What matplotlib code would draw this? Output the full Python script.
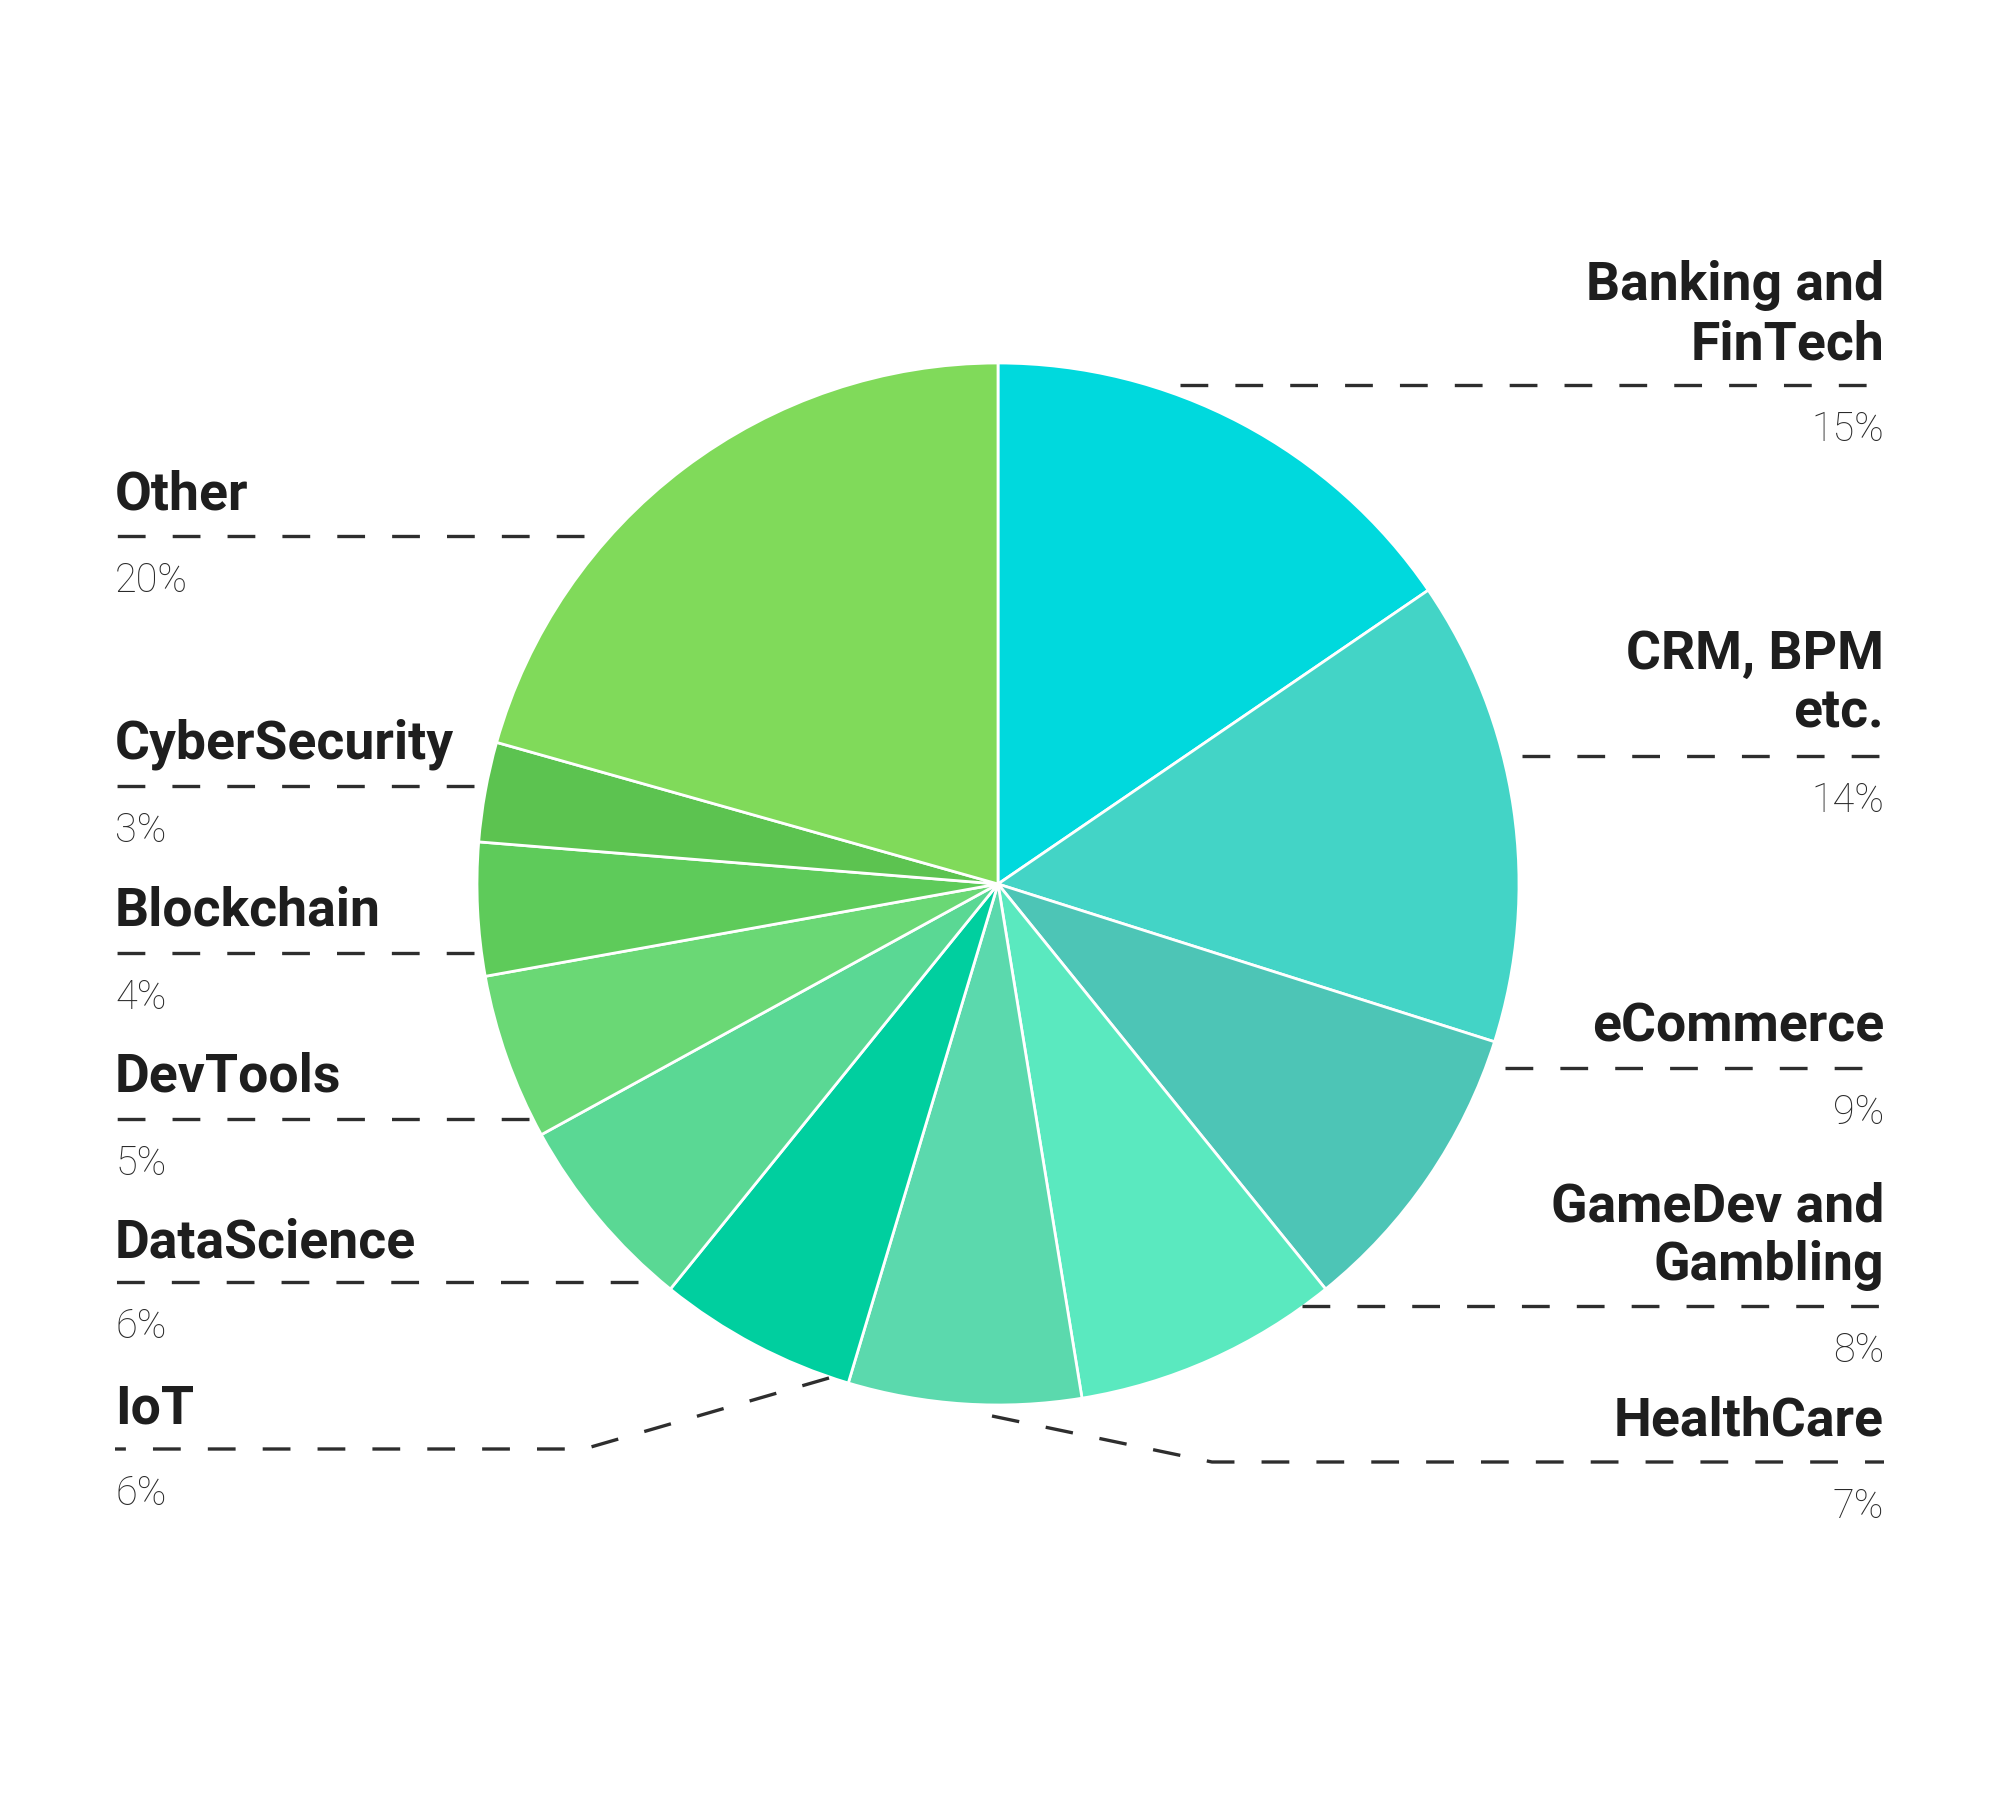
import matplotlib
matplotlib.use("Agg")
from matplotlib import pyplot as plt

plt.rcParams['font.family'] = ['Roboto', 'DejaVu Sans']
plt.rcParams['lines.scale_dashes'] = False

# clockwise from 12 o'clock
labels = ["Banking and\nFinTech", "CRM, BPM\netc.", "eCommerce", "GameDev and\nGambling",
          "HealthCare", "IoT", "DataScience", "DevTools", "Blockchain", "CyberSecurity", "Other"]
shares = [15, 14, 9, 8, 7, 6, 6, 5, 4, 3, 20]
colors = ["#00D9DD", "#43D4C6", "#4DC5B6", "#5AE9BF", "#5BD9AD", "#00CF9F",
          "#5AD894", "#6AD875", "#5ECB5A", "#5CC350", "#80DA5A"]

W, H = 2000, 1800
fig = plt.figure(figsize=(20, 18), dpi=100)
ax = fig.add_axes([0, 0, 1, 1])


def Y(y):
    # pixel row (from top) -> data y
    return H - y


cx, cy, r = 998, 884, 521
ax.pie(shares, colors=colors, startangle=90, counterclock=False,
       center=(cx, Y(cy)), radius=r, frame=True,
       wedgeprops=dict(edgecolor='white', linewidth=2))
ax.set_xlim(0, W)
ax.set_ylim(0, H)
ax.set_aspect('equal')
ax.axis('off')

# label layout: side, name baseline (last line), dash row, leader points
layout = {
    "Banking and\nFinTech": ('R', 359, 385, [(1180, 385)]),
    "CRM, BPM\netc.": ('R', 728, 756, [(1522, 756)]),
    "eCommerce": ('R', 1041, 1068, [(1505, 1068)]),
    "GameDev and\nGambling": ('R', 1280, 1306, [(1302, 1306)]),
    "HealthCare": ('R', 1435, 1462, [(992, 1416), (1212, 1462)]),
    "IoT": ('L', 1424, 1449, [(829, 1378), (584, 1449)]),
    "DataScience": ('L', 1257, 1282, [(638, 1282)]),
    "DevTools": ('L', 1092, 1119, [(529, 1119)]),
    "Blockchain": ('L', 926, 953, [(474, 953)]),
    "CyberSecurity": ('L', 759, 786, [(474, 786)]),
    "Other": ('L', 510, 536, [(584, 536)]),
}

xl, xr = 115, 1884
dash = (0, (20, 19.5))
for lab, val in zip(labels, shares):
    side, base, row, pts = layout[lab]
    x_edge = xl if side == 'L' else xr
    ha = 'left' if side == 'L' else 'right'
    lines = lab.split("\n")
    for i, line in enumerate(lines):
        yb = base - (len(lines) - 1 - i) * 59
        ax.text(x_edge, Y(yb), line, ha=ha, va='baseline', fontsize=38.5,
                fontweight='bold', color='#1E1E1E')
    ax.text(x_edge, Y(row + 56), f"{val}%", ha=ha, va='baseline', fontsize=28.5,
            fontweight='light', color='#2A2A2A')
    xs = [p[0] for p in pts] + [x_edge]
    ys = [Y(p[1]) for p in pts] + [Y(row)]
    ax.plot(xs, ys, color='#2E2E2E', linewidth=2.4, linestyle=dash,
            solid_capstyle='butt', dash_capstyle='butt')

fig.savefig("out.png", dpi=100, facecolor='white')
